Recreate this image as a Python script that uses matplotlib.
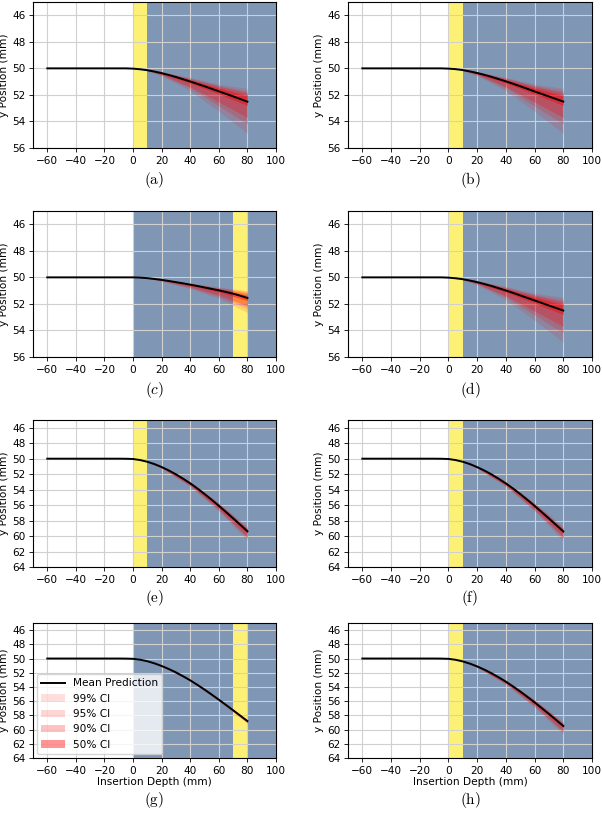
import numpy as np
import matplotlib
matplotlib.use("Agg")
import matplotlib.pyplot as plt

plt.rcParams['mathtext.fontset'] = 'cm'

# insertion depth grid (mm) for mean predictions
depth = [-60, -10, -5, 0, 5, 10, 15, 20, 25, 30, 35, 40, 45, 50, 55, 60, 65, 70, 75, 80]

# mean predicted y position (mm) per panel
mean_a = [50, 50, 50.0, 50.02, 50.07, 50.14, 50.24, 50.36, 50.5, 50.65, 50.82,
          50.99, 51.17, 51.35, 51.54, 51.73, 51.92, 52.11, 52.31, 52.51]
mean_b = [50, 50, 50.0, 50.02, 50.06, 50.13, 50.23, 50.35, 50.49, 50.64, 50.81,
          50.98, 51.16, 51.35, 51.54, 51.74, 51.93, 52.12, 52.31, 52.5]
mean_c = [50, 50, 50.0, 50.0, 50.02, 50.06, 50.12, 50.19, 50.27, 50.36, 50.45,
          50.55, 50.65, 50.76, 50.87, 50.98, 51.1, 51.23, 51.38, 51.55]
mean_d = [50, 50, 50.0, 50.02, 50.07, 50.14, 50.24, 50.36, 50.5, 50.65, 50.82,
          50.99, 51.17, 51.36, 51.55, 51.74, 51.93, 52.12, 52.31, 52.5]
mean_e = [50, 50, 50.01, 50.04, 50.18, 50.4, 50.7, 51.08, 51.52, 52.02, 52.58,
          53.19, 53.85, 54.56, 55.31, 56.09, 56.89, 57.71, 58.54, 59.38]
mean_f = [50, 50, 50.01, 50.04, 50.18, 50.4, 50.7, 51.09, 51.53, 52.03, 52.59,
          53.2, 53.86, 54.57, 55.32, 56.1, 56.91, 57.73, 58.56, 59.4]
mean_g = [50, 50, 50.01, 50.04, 50.17, 50.38, 50.68, 51.05, 51.47, 51.95, 52.49,
          53.07, 53.7, 54.37, 55.07, 55.79, 56.53, 57.28, 58.04, 58.8]
mean_h = [50, 50, 50.01, 50.04, 50.18, 50.41, 50.72, 51.11, 51.56, 52.07, 52.64,
          53.26, 53.93, 54.64, 55.39, 56.17, 56.98, 57.8, 58.64, 59.49]

# confidence bands: offsets above / below the mean at these depths
ci_depth = [10, 20, 40, 60, 80]
ci_levels = ['99% CI', '95% CI', '90% CI', '50% CI']
ci_alpha = [0.13, 0.16, 0.24, 0.42]

# shallow trajectories (a, b, d)
flat_up = [[0.05, 0.12, 0.3, 0.55, 1.0],
           [0.04, 0.1, 0.25, 0.45, 0.8],
           [0.03, 0.08, 0.2, 0.38, 0.65],
           [0.02, 0.05, 0.12, 0.25, 0.45]]
flat_dn = [[0.05, 0.2, 0.7, 1.5, 2.4],
           [0.04, 0.15, 0.5, 1.1, 1.7],
           [0.03, 0.12, 0.4, 0.8, 1.2],
           [0.01, 0.05, 0.12, 0.2, 0.3]]
# panel c
c_up = [[0.02, 0.05, 0.12, 0.25, 0.55],
        [0.02, 0.04, 0.1, 0.2, 0.45],
        [0.01, 0.03, 0.08, 0.17, 0.35],
        [0.01, 0.02, 0.05, 0.1, 0.2]]
c_dn = [[0.03, 0.1, 0.3, 0.6, 1.1],
        [0.02, 0.08, 0.22, 0.45, 0.8],
        [0.02, 0.06, 0.17, 0.35, 0.6],
        [0.01, 0.02, 0.06, 0.12, 0.2]]
# steep trajectories (e, f, h)
steep_up = [[0.05, 0.1, 0.25, 0.4, 0.6],
            [0.04, 0.08, 0.2, 0.32, 0.45],
            [0.03, 0.07, 0.16, 0.26, 0.35],
            [0.01, 0.03, 0.07, 0.12, 0.15]]
steep_dn = [[0.05, 0.15, 0.4, 0.7, 1.2],
            [0.04, 0.12, 0.32, 0.55, 0.9],
            [0.03, 0.1, 0.26, 0.45, 0.7],
            [0.01, 0.04, 0.1, 0.18, 0.25]]
# panel g
g_up = [[0.02, 0.04, 0.08, 0.12, 0.2],
        [0.02, 0.03, 0.06, 0.1, 0.16],
        [0.01, 0.03, 0.05, 0.08, 0.12],
        [0.01, 0.02, 0.03, 0.05, 0.06]]
g_dn = [[0.02, 0.05, 0.1, 0.2, 0.35],
        [0.02, 0.04, 0.08, 0.16, 0.28],
        [0.01, 0.03, 0.06, 0.12, 0.2],
        [0.01, 0.02, 0.03, 0.06, 0.1]]

# observed (yellow) window per panel
window = {'a': (0, 10), 'b': (0, 10), 'c': (70, 80), 'd': (0, 10),
          'e': (0, 10), 'f': (0, 10), 'g': (70, 80), 'h': (0, 10)}

panels = [
    ('a', mean_a, flat_up, flat_dn, 56),
    ('b', mean_b, flat_up, flat_dn, 56),
    ('c', mean_c, c_up, c_dn, 56),
    ('d', mean_d, flat_up, flat_dn, 56),
    ('e', mean_e, steep_up, steep_dn, 64),
    ('f', mean_f, steep_up, steep_dn, 64),
    ('g', mean_g, g_up, g_dn, 64),
    ('h', mean_h, steep_up, steep_dn, 64),
]

W, H = 602, 813
fig = plt.figure(figsize=(W / 100, H / 100), dpi=100)

cols = [(33, 276), (348, 592)]
rows = [(2, 148, 180), (211, 357, 390), (420, 567, 598), (623, 758, 800)]

fs = 7.6
d = np.array(depth)
cd = np.array(ci_depth)
sel = np.isin(d, cd)

for i, (name, mean, up, dn, ybot) in enumerate(panels):
    r, c = divmod(i, 2)
    x0, x1 = cols[c]
    top, bot, cap = rows[r]
    ax = fig.add_axes([x0 / W, 1 - bot / H, (x1 - x0) / W, (bot - top) / H])

    ax.axvspan(0, 100, color='#7f97b5', lw=0, zorder=0)
    w0, w1 = window[name]
    ax.axvspan(w0, w1, color='#fdf175', lw=0, zorder=0.5)

    m = np.array(mean)
    mc = m[sel]
    for k in range(4):
        ax.fill_between(cd, mc - np.array(up[k]), mc + np.array(dn[k]),
                        color='red', alpha=ci_alpha[k], lw=0,
                        label=ci_levels[k], zorder=2)
    ax.plot(d, m, color='black', lw=1.4, label='Mean Prediction', zorder=3)

    ax.set_xlim(-70, 100)
    ax.set_ylim(ybot, 45)
    ax.set_xticks(np.arange(-60, 101, 20))
    ax.set_yticks(np.arange(46, ybot + 1, 2))
    ax.grid(True, color='#d0d0d0', lw=0.8)
    ax.tick_params(labelsize=fs, length=3, width=0.6, pad=2.5)
    for s in ax.spines.values():
        s.set_linewidth(0.8)
    ax.set_ylabel('y Position (mm)', fontsize=fs, labelpad=2)
    if r == 3:
        ax.set_xlabel('Insertion Depth (mm)', fontsize=fs, labelpad=1)

    if name == 'g':
        h, l = ax.get_legend_handles_labels()
        order = [4, 0, 1, 2, 3]
        ax.legend([h[j] for j in order], [l[j] for j in order],
                  loc='lower left', fontsize=fs, handlelength=2.2,
                  borderaxespad=0.4, labelspacing=0.5)

    lab = r'$(c)$' if name == 'c' else r'$\mathrm{(%s)}$' % name
    fig.text((x0 + x1) / 2 / W, 1 - cap / H, lab, ha='center', va='center',
             fontsize=11)

fig.savefig('out.png', dpi=100)
